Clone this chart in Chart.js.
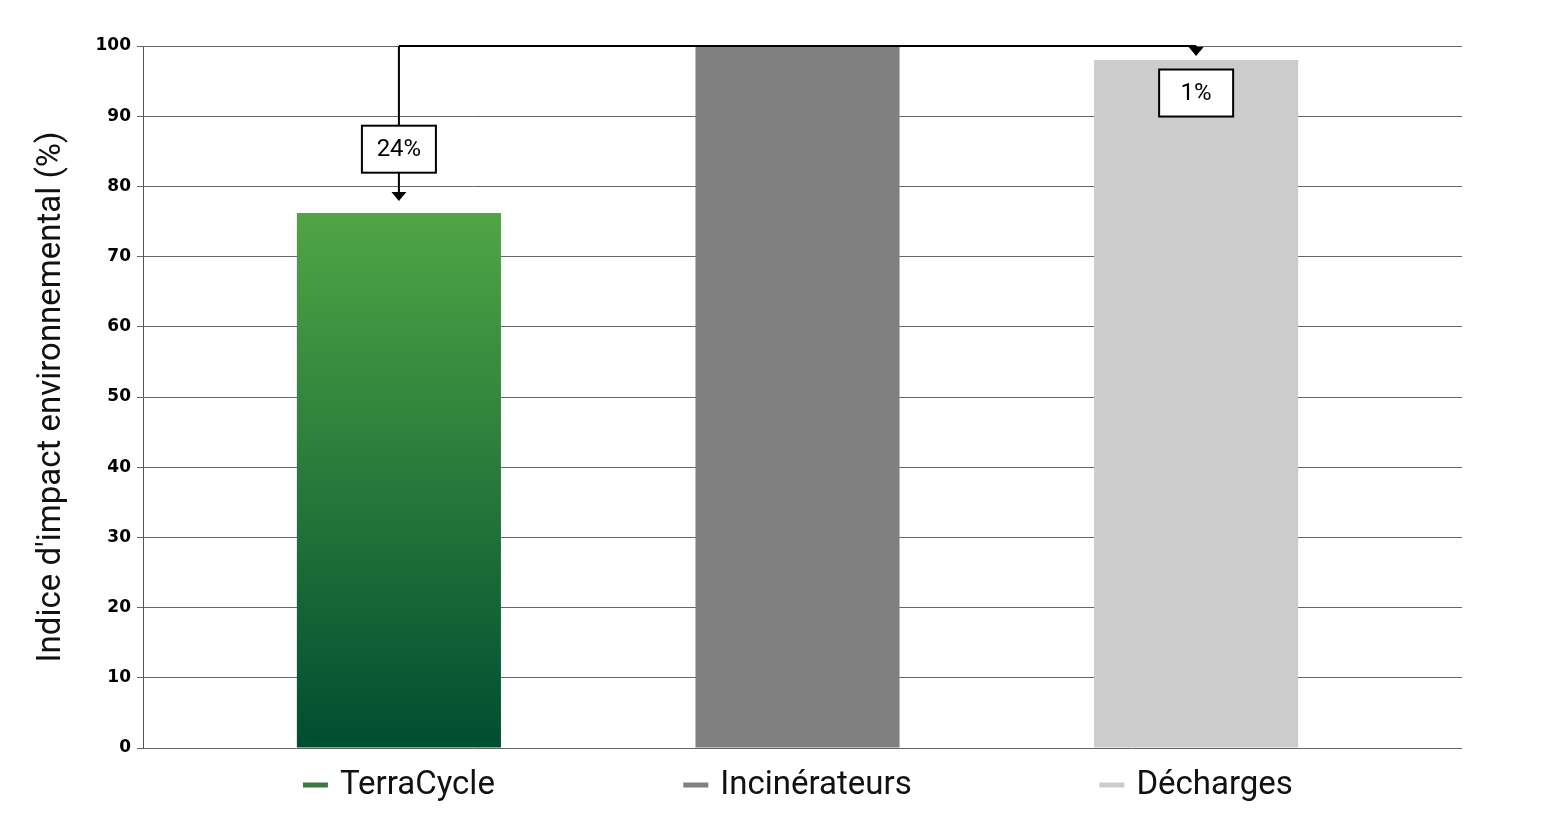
<!DOCTYPE html>
<html>
<head>
<meta charset="utf-8">
<script src="https://cdn.jsdelivr.net/npm/chart.js@4"></script>
<style>
  html, body { margin: 0; padding: 0; background: #fff; }
  #wrap { width: 1541px; height: 816px; }
</style>
</head>
<body>
<div id="wrap"><canvas id="impactChart"></canvas></div>
<script>
// ===== DATA =====
const categories = ['TerraCycle', 'Incinérateurs', 'Décharges'];
const impactValues = [76.2, 100, 98];
const barColors = ['#4fa443', '#808080', '#cccccc'];
const legendColors = ['#3b7a44', '#808080', '#cccccc'];
const yTicks = [0, 10, 20, 30, 40, 50, 60, 70, 80, 90, 100];
const deltaLabels = ['24%', null, '1%'];

// gradient for the TerraCycle bar
function barFill(context) {
    const i = context.dataIndex;
    if (i !== 0) return barColors[i];
    const chart = context.chart;
    if (!chart.chartArea) return barColors[0];
    const y = chart.scales.y;
    const g = chart.ctx.createLinearGradient(0, y.getPixelForValue(impactValues[0]), 0, y.getPixelForValue(0));
    g.addColorStop(0, '#50a545');
    g.addColorStop(1, '#004d31');
    return g;
}

// ===== ANNOTATION: bracket with arrows and % boxes =====
const bracketPlugin = {
    id: 'bracket',
    afterDatasetsDraw(chart) {
        const ctx = chart.ctx;
        const x = chart.scales.x, y = chart.scales.y;
        const yTop = y.getPixelForValue(impactValues[1]);
        const xa = x.getPixelForValue(0), xc = x.getPixelForValue(2);

        ctx.save();
        ctx.strokeStyle = '#000';
        ctx.fillStyle = '#000';
        ctx.lineWidth = 2;

        // horizontal line across the top
        ctx.beginPath();
        ctx.moveTo(xa, yTop);
        ctx.lineTo(xc, yTop);
        ctx.stroke();

        function arrow(px, tipY) {
            ctx.beginPath();
            ctx.moveTo(px, yTop);
            ctx.lineTo(px, tipY - 8);
            ctx.stroke();
            ctx.beginPath();
            ctx.moveTo(px - 7.5, tipY - 9);
            ctx.lineTo(px + 7.5, tipY - 9);
            ctx.lineTo(px, tipY);
            ctx.closePath();
            ctx.fill();
        }
        arrow(xa, y.getPixelForValue(impactValues[0]) - 12);
        arrow(xc, y.getPixelForValue(impactValues[2]) - 4);

        function box(px, vy, text) {
            const cy = y.getPixelForValue(vy);
            const w = 74, h = 47;
            ctx.fillStyle = '#fff';
            ctx.fillRect(px - w / 2, cy - h / 2, w, h);
            ctx.strokeRect(px - w / 2, cy - h / 2, w, h);
            ctx.fillStyle = '#000';
            ctx.font = '24px Roboto';
            ctx.textAlign = 'center';
            ctx.textBaseline = 'middle';
            ctx.fillText(text, px, cy + 1);
        }
        box(xa, 85.3, deltaLabels[0]);
        box(xc, 93.3, deltaLabels[2]);
        ctx.restore();
    }
};

// ===== LEGEND centered under each bar =====
const barLegendPlugin = {
    id: 'barLegend',
    afterDraw(chart) {
        const ctx = chart.ctx;
        const x = chart.scales.x;
        const cy = 785;
        ctx.save();
        ctx.font = '33px Roboto';
        ctx.textBaseline = 'middle';
        ctx.textAlign = 'left';
        categories.forEach((name, i) => {
            const tw = ctx.measureText(name).width;
            const total = 25 + 12 + tw;
            const left = x.getPixelForValue(i) - total / 2;
            ctx.fillStyle = legendColors[i];
            ctx.fillRect(left, cy - 2.5, 25, 5);
            ctx.fillStyle = '#111';
            ctx.fillText(name, left + 37, cy + 1);
        });
        ctx.restore();
    }
};

// ===== CHART =====
new Chart(document.getElementById('impactChart'), {
    type: 'bar',
    data: {
        datasets: [{
            label: 'Indice',
            data: categories.map((c, i) => ({ x: i, y: impactValues[i] })),
            backgroundColor: barFill,
            borderWidth: 0,
            categoryPercentage: 1,
            barPercentage: 0.512
        }]
    },
    options: {
        responsive: true,
        maintainAspectRatio: false,
        animation: false,
        layout: { padding: { top: 46, right: 79, bottom: 68, left: 0 } },
        plugins: {
            legend: { display: false },
            tooltip: { enabled: false }
        },
        scales: {
            x: {
                type: 'linear',
                min: -0.642,
                max: 2.667,
                offset: false,
                display: false,
                afterBuildTicks: s => { s.ticks = categories.map((c, i) => ({ value: i })); }
            },
            y: {
                min: 0,
                max: 100,
                afterFit: s => { s.width = 143; },
                afterBuildTicks: s => { s.ticks = yTicks.map(v => ({ value: v })); },
                border: { display: true, color: '#555', width: 1 },
                grid: { color: '#666', lineWidth: 1, tickLength: 6 },
                ticks: {
                    color: '#000',
                    padding: 6,
                    font: { family: "'DejaVu Sans', sans-serif", size: 17, weight: 'bold' }
                },
                title: {
                    display: true,
                    text: "Indice d'impact environnemental (%)",
                    color: '#111',
                    padding: { top: 32, bottom: 0 },
                    font: { family: 'Roboto', size: 33 }
                }
            }
        }
    },
    plugins: [bracketPlugin, barLegendPlugin]
});
</script>
</body>
</html>
